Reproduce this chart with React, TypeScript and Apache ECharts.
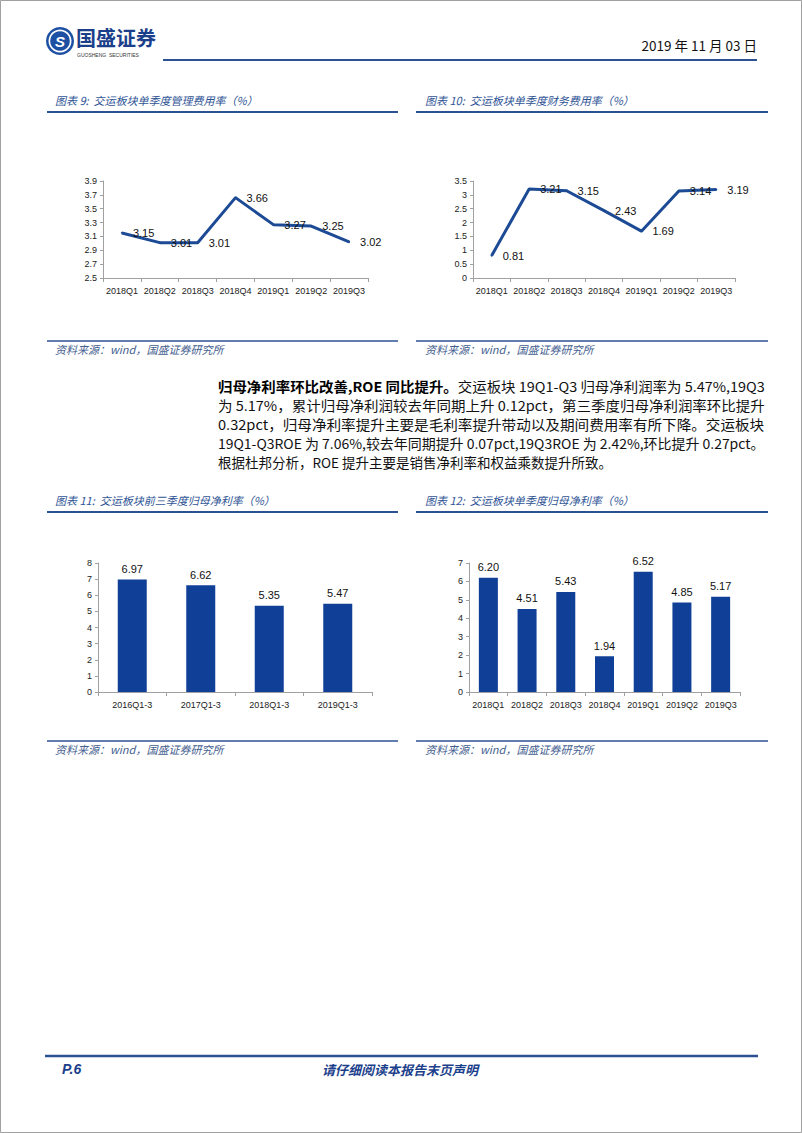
import React, { useEffect, useRef } from "react";
import * as echarts from "echarts";

const CAT_Q = ["2018Q1", "2018Q2", "2018Q3", "2018Q4", "2019Q1", "2019Q2", "2019Q3"];
const MGMT_RATE = [3.15, 3.01, 3.01, 3.66, 3.27, 3.25, 3.02];
const FIN_RATE = [0.81, 3.21, 3.15, 2.43, 1.69, 3.14, 3.19];
const CAT_YTD = ["2016Q1-3", "2017Q1-3", "2018Q1-3", "2019Q1-3"];
const YTD_NET = [6.97, 6.62, 5.35, 5.47];
const Q_NET = [6.2, 4.51, 5.43, 1.94, 6.52, 4.85, 5.17];

const TITLES = [
  "图表 9:  交运板块单季度管理费用率（%）",
  "图表 10:  交运板块单季度财务费用率（%）",
  "图表 11:  交运板块前三季度归母净利率（%）",
  "图表 12:  交运板块单季度归母净利率（%）",
];
const SOURCE = "资料来源：wind，国盛证券研究所";
const PARA_BOLD = "归母净利率环比改善,ROE 同比提升。";
const PARA = [
  "交运板块 19Q1-Q3 归母净利润率为 5.47%,19Q3",
  "为 5.17%，累计归母净利润较去年同期上升 0.12pct，第三季度归母净利润率环比提升",
  "0.32pct，归母净利率提升主要是毛利率提升带动以及期间费用率有所下降。交运板块",
  "19Q1-Q3ROE 为 7.06%,较去年同期提升 0.07pct,19Q3ROE 为 2.42%,环比提升 0.27pct。",
  "根据杜邦分析，ROE 提升主要是销售净利率和权益乘数提升所致。",
];

const BLUE = "#1c4a94";
const BAR = "#0f3f96";
const RULE = "#2c5193";
const SANS = '"Liberation Sans", Arial, sans-serif';
const CJK = '"Noto Sans CJK SC", sans-serif';

function xAxis(gridIndex: number, data: string[]) {
  return {
    type: "category",
    gridIndex,
    data,
    boundaryGap: true,
    axisLine: { lineStyle: { color: "#a0a0a0", width: 1 } },
    axisTick: { show: true, length: 4, alignWithLabel: false, lineStyle: { color: "#a0a0a0" } },
    axisLabel: { color: "#222", fontSize: 9, fontFamily: SANS, margin: 8, interval: 0 },
  };
}
function yAxis(gridIndex: number, min: number, max: number, interval: number) {
  return {
    type: "value",
    gridIndex,
    min,
    max,
    interval,
    axisLine: { show: true, lineStyle: { color: "#a0a0a0", width: 1 } },
    axisTick: { show: true, length: 3, lineStyle: { color: "#a0a0a0" } },
    splitLine: { show: false },
    axisLabel: { color: "#222", fontSize: 9, fontFamily: SANS, margin: 6 },
  };
}

function lineSeries(i: number, data: number[]) {
  return {
    type: "line",
    xAxisIndex: i,
    yAxisIndex: i,
    data,
    symbol: "circle",
    symbolSize: 2,
    showSymbol: true,
    itemStyle: { color: BLUE },
    lineStyle: { color: BLUE, width: 3 },
    label: {
      show: true,
      position: "right",
      distance: 10,
      fontSize: 11,
      fontFamily: SANS,
      color: "#111",
      formatter: (p: any) => Number(p.value).toFixed(2),
    },
    labelLayout: { hideOverlap: false },
  };
}
function barSeries(i: number, data: number[], barWidth: number) {
  return {
    type: "bar",
    xAxisIndex: i,
    yAxisIndex: i,
    data,
    barWidth,
    itemStyle: { color: BAR },
    label: {
      show: true,
      position: "top",
      distance: 5,
      fontSize: 11,
      fontFamily: SANS,
      color: "#111",
      formatter: (p: any) => Number(p.value).toFixed(2),
    },
  };
}

function txt(text: string, x: number, y: number, font: string, fill: string, align = "left", extra: any = {}, el: any = {}) {
  return {
    type: "text",
    x,
    y,
    ...el,
    style: { text, font, fill, align, verticalAlign: "middle", ...extra },
  };
}
function hline(x1: number, x2: number, y: number, color: string, w: number) {
  return { type: "line", shape: { x1, y1: y, x2, y2: y }, style: { stroke: color, lineWidth: w } };
}

export default function App() {
  const ref = useRef<HTMLDivElement>(null);
  useEffect(() => {
    const chart = echarts.init(ref.current!, null, { renderer: "svg" });
    const titleFont = `italic 11px ${CJK}`;
    const titleColor = "#2f5496";
    const srcColor = "#44608f";
    const paraFont = `13.5px ${CJK}`;
    const boldFont = `bold 13.5px ${CJK}`;
    const ctx = document.createElement("canvas").getContext("2d")!;
    const measure = (font: string, t: string) => {
      ctx.font = font;
      return ctx.measureText(t).width;
    };
    const graphic: any[] = [
      { type: "rect", shape: { x: 0.5, y: 0.5, width: 801, height: 1132 }, style: { fill: "none", stroke: "#a0a0a0", lineWidth: 1 } },
      // logo
      { type: "circle", shape: { cx: 60, cy: 41, r: 14 }, style: { fill: "#1d50a3" } },
      { type: "ring", shape: { cx: 60, cy: 41, r: 11.5, r0: 9.8 }, style: { fill: "#ffffff" } },
      txt("S", 60, 41.5, `bold italic 15px ${SANS}`, "#ffffff", "center"),
      txt("国盛证券", 76, 37, `bold 20px ${CJK}`, "#1c3f8c"),
      txt("GUOSHENG  SECURITIES", 77, 55, `5px ${SANS}`, "#333333"),
      txt("2019 年 11 月 03 日", 757, 45, `13.5px ${CJK}`, "#111111", "right"),
      hline(163, 757, 60, RULE, 2),
      // chart titles & rules
      txt(TITLES[0], 55, 100, titleFont, titleColor),
      hline(47, 398, 112, RULE, 2),
      txt(TITLES[1], 425, 100, titleFont, titleColor),
      hline(416, 768, 112, RULE, 2),
      hline(47, 398, 341, RULE, 1.5),
      txt(SOURCE, 55, 349, titleFont, srcColor),
      hline(416, 768, 341, RULE, 1.5),
      txt(SOURCE, 425, 349, titleFont, srcColor),
      txt(TITLES[2], 55, 500, titleFont, titleColor),
      hline(47, 398, 512, RULE, 2),
      txt(TITLES[3], 425, 500, titleFont, titleColor),
      hline(416, 768, 512, RULE, 2),
      hline(47, 398, 741, RULE, 1.5),
      txt(SOURCE, 55, 749, titleFont, srcColor),
      hline(416, 768, 741, RULE, 1.5),
      txt(SOURCE, 425, 749, titleFont, srcColor),
      // footer
      hline(45, 758, 1056, RULE, 2.5),
      txt("P.6", 62, 1069, `bold italic 14px ${SANS}`, "#1c3f8c"),
      txt("请仔细阅读本报告末页声明", 400, 1069, `bold italic 13px ${CJK}`, "#1c3f8c", "center"),
    ];
    const lineYs = [386, 405, 424, 443, 462];
    const PX = 218;
    const TARGET = 547;
    PARA.forEach((t, i) => {
      let natural = measure(paraFont, t);
      let text = t;
      const extra: any = {};
      if (i === 0) {
        natural += measure(boldFont, PARA_BOLD);
        text = `{b|${PARA_BOLD}}${t}`;
        extra.rich = { b: { font: boldFont, fill: "#000" } };
      }
      const scaleX = i < 4 && natural > 0 ? Math.min(1.15, Math.max(0.88, TARGET / natural)) : 1;
      graphic.push(txt(text, PX, lineYs[i], paraFont, "#111111", "left", extra, { scaleX }));
    });

    chart.setOption({
      animation: false,
      backgroundColor: "#ffffff",
      grid: [
        { left: 103, top: 181, width: 265, height: 97 },
        { left: 473, top: 181, width: 262, height: 97 },
        { left: 98, top: 563, width: 274, height: 129 },
        { left: 469, top: 563, width: 271, height: 129 },
      ],
      xAxis: [xAxis(0, CAT_Q), xAxis(1, CAT_Q), xAxis(2, CAT_YTD), xAxis(3, CAT_Q)],
      yAxis: [yAxis(0, 2.5, 3.9, 0.2), yAxis(1, 0, 3.5, 0.5), yAxis(2, 0, 8, 1), yAxis(3, 0, 7, 1)],
      series: [
        lineSeries(0, MGMT_RATE),
        lineSeries(1, FIN_RATE),
        barSeries(2, YTD_NET, 29),
        barSeries(3, Q_NET, 19),
      ],
      graphic,
    });
    return () => chart.dispose();
  }, []);
  return (
    <div
      ref={ref}
      style={{ position: "absolute", left: 0, top: 0, width: 802, height: 1133, background: "#fff" }}
    />
  );
}
